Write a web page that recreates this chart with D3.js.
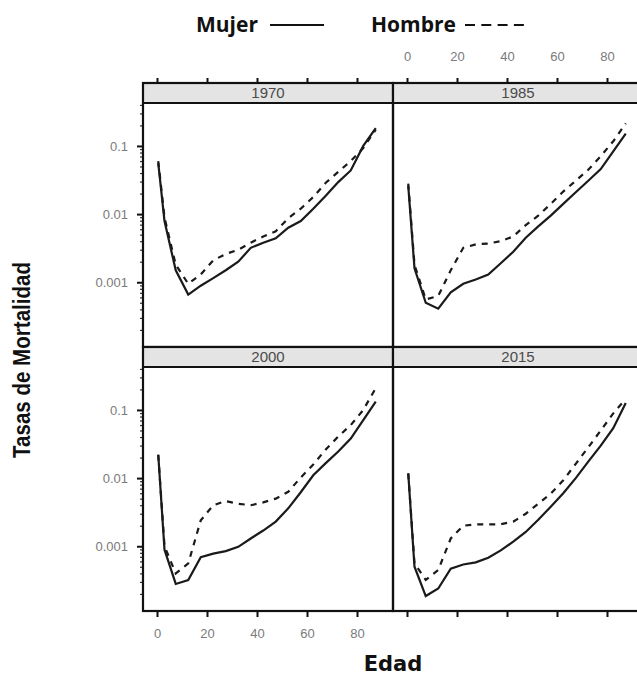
<!DOCTYPE html>
<html>
  <head>
    <title>Tasas de Mortalidad por Edad</title>
    <style>
      body { margin: 0; background: #fff; }
      .tick text { font-family: Arial, "Liberation Sans", sans-serif; font-size: 13px; fill: #7a7a7a; }
    </style>
    <script src="https://cdn.jsdelivr.net/npm/d3@7"></script>
  </head>
  <body>
    <script>
      // edades (punto medio de cada grupo)
      const ages = [0.5, 3, 7.5, 12.5, 17.5, 22.5, 27.5, 32.5, 37.5, 42.5, 47.5, 52.5, 57.5, 62.5, 67.5, 72.5, 77.5, 82.5, 87.5];
      const years = ['1970', '1985', '2000', '2015'];
      const xTicks = [0, 20, 40, 60, 80];
      const yTicks = [0.001, 0.01, 0.1];
      const yTickLabels = ['0.001', '0.01', '0.1'];

      const mujer1970  = [0.056, 0.0079, 0.0015, 0.00066, 0.00089, 0.00115, 0.0015, 0.0020, 0.0032, 0.0038, 0.0044, 0.0063, 0.0079, 0.012, 0.0186, 0.0295, 0.0437, 0.100, 0.182];
      const hombre1970 = [0.060, 0.0089, 0.0018, 0.00095, 0.0013, 0.0021, 0.0026, 0.0030, 0.0038, 0.0047, 0.0056, 0.0087, 0.012, 0.0178, 0.0288, 0.0417, 0.060, 0.093, 0.174];
      const mujer1985  = [0.026, 0.0016, 0.0005, 0.00041, 0.00071, 0.00095, 0.0011, 0.0013, 0.0019, 0.0028, 0.0045, 0.0066, 0.0095, 0.0141, 0.0209, 0.0309, 0.0457, 0.083, 0.151];
      const hombre1985 = [0.028, 0.0018, 0.00056, 0.00063, 0.0015, 0.0032, 0.0036, 0.0037, 0.0040, 0.0047, 0.0069, 0.0095, 0.0141, 0.0214, 0.0309, 0.0447, 0.0708, 0.117, 0.214];
      const mujer2000  = [0.022, 0.00089, 0.00028, 0.00032, 0.00069, 0.00078, 0.00085, 0.00098, 0.0013, 0.0017, 0.0023, 0.0036, 0.0062, 0.011, 0.0166, 0.0245, 0.038, 0.071, 0.132];
      const hombre2000 = [0.022, 0.0010, 0.0004, 0.00056, 0.0024, 0.0040, 0.0046, 0.0042, 0.0040, 0.0044, 0.0050, 0.0063, 0.0102, 0.0158, 0.0263, 0.0407, 0.060, 0.100, 0.209];
      const mujer2015  = [0.0117, 0.0005, 0.000186, 0.00024, 0.00047, 0.00054, 0.00058, 0.00068, 0.00087, 0.00117, 0.00162, 0.00245, 0.0038, 0.006, 0.010, 0.0174, 0.030, 0.054, 0.126];
      const hombre2015 = [0.0117, 0.00056, 0.00032, 0.00045, 0.0013, 0.0020, 0.0021, 0.0021, 0.0021, 0.0023, 0.0030, 0.0042, 0.0059, 0.0093, 0.0162, 0.0282, 0.050, 0.089, 0.145];

      const mujer = [mujer1970, mujer1985, mujer2000, mujer2015];
      const hombre = [hombre1970, hombre1985, hombre2000, hombre2015];

      const width = 637, height = 675;
      const margin = { left: 143, top: 83 };
      const panelW = 250, panelH = 244, stripH = 20;

      const svg = d3.select('body').append('svg')
        .attr('width', width)
        .attr('height', height);

      const x = d3.scaleLinear().domain([-5.6, 94.4]).range([0, panelW]);
      const y = d3.scaleLog().domain([Math.pow(10, -3.95), Math.pow(10, -0.37)]).range([panelH, 0]);

      // minor log ticks
      const minor = [];
      [0.0001, 0.001, 0.01, 0.1].forEach(b => {
        for (let k = 2; k <= 9; k++) {
          const v = b * k;
          if (v >= y.domain()[0] && v <= y.domain()[1]) minor.push(v);
        }
      });

      const line = d3.line()
        .x((d, i) => x(ages[i]))
        .y(d => y(d));

      years.forEach((yr, p) => {
        const col = p % 2, row = Math.floor(p / 2);
        const gx = margin.left + col * panelW;
        const gy = margin.top + row * (panelH + stripH);
        const g = svg.append('g').attr('transform', `translate(${gx},${gy})`);

        // strip
        g.append('rect')
          .attr('width', panelW).attr('height', stripH)
          .attr('fill', '#e4e4e4');
        g.append('text')
          .attr('x', panelW / 2).attr('y', stripH / 2 + 5)
          .attr('text-anchor', 'middle')
          .style('font', '15px Arial, "Liberation Sans", sans-serif')
          .attr('fill', '#4a4a4a')
          .text(yr);

        const plot = g.append('g').attr('transform', `translate(0,${stripH})`);

        plot.append('path')
          .datum(hombre[p])
          .attr('d', line)
          .attr('fill', 'none')
          .attr('stroke', '#1a1a1a')
          .attr('stroke-width', 2.2)
          .attr('stroke-dasharray', '6,6');

        plot.append('path')
          .datum(mujer[p])
          .attr('d', line)
          .attr('fill', 'none')
          .attr('stroke', '#1a1a1a')
          .attr('stroke-width', 2.2);

        // frame lines
        g.append('rect')
          .attr('width', panelW).attr('height', panelH + stripH)
          .attr('fill', 'none').attr('stroke', '#111').attr('stroke-width', 2.2);
        g.append('line')
          .attr('x1', 0).attr('x2', panelW)
          .attr('y1', stripH).attr('y2', stripH)
          .attr('stroke', '#111').attr('stroke-width', 2.2);

        // top axis (row 0)
        if (row === 0) {
          const ax = g.append('g')
            .call(d3.axisTop(x).tickValues(xTicks).tickSize(5).tickPadding(17)
              .tickFormat(col === 1 ? d3.format('d') : ''));
          ax.select('.domain').remove();
          ax.selectAll('line').attr('stroke', '#111').attr('stroke-width', 2);
        }
        // bottom axis (row 1)
        if (row === 1) {
          const ax = plot.append('g')
            .attr('transform', `translate(0,${panelH})`)
            .call(d3.axisBottom(x).tickValues(xTicks).tickSize(6).tickPadding(12)
              .tickFormat(col === 0 ? d3.format('d') : ''));
          ax.select('.domain').remove();
          ax.selectAll('line').attr('stroke', '#111').attr('stroke-width', 2);
        }
        // left axis (col 0)
        if (col === 0) {
          const ay = plot.append('g')
            .call(d3.axisLeft(y).tickValues(yTicks).tickSize(6).tickPadding(9)
              .tickFormat((d, i) => yTickLabels[i]));
          ay.select('.domain').remove();
          ay.selectAll('line').attr('stroke', '#111').attr('stroke-width', 2);
          const am = plot.append('g')
            .call(d3.axisLeft(y).tickValues(minor).tickSize(3).tickFormat(''));
          am.select('.domain').remove();
          am.selectAll('line').attr('stroke', '#333').attr('stroke-width', 1.2);
        }
      });

      // legend
      const leg = svg.append('g').style('font', 'bold 21px "Open Sans", sans-serif').attr('fill', '#111');
      leg.append('text').attr('x', 196).attr('y', 32).text('Mujer');
      leg.append('line').attr('x1', 270).attr('x2', 324).attr('y1', 25).attr('y2', 25)
        .attr('stroke', '#111').attr('stroke-width', 2);
      leg.append('text').attr('x', 371).attr('y', 32).text('Hombre');
      leg.append('line').attr('x1', 465).attr('x2', 524).attr('y1', 25).attr('y2', 25)
        .attr('stroke', '#111').attr('stroke-width', 2).attr('stroke-dasharray', '10,6.3');

      // axis titles
      svg.append('text')
        .attr('x', margin.left + panelW).attr('y', 671)
        .attr('text-anchor', 'middle')
        .style('font', 'bold 21px "DejaVu Sans", Verdana, sans-serif')
        .attr('fill', '#111')
        .text('Edad');

      svg.append('text')
        .attr('transform', 'translate(30,360) rotate(-90)')
        .attr('text-anchor', 'middle')
        .attr('textLength', 196)
        .attr('lengthAdjust', 'spacingAndGlyphs')
        .style('font', 'bold 24px "Liberation Sans", Arial, sans-serif')
        .attr('fill', '#111')
        .text('Tasas de Mortalidad');
    </script>
  </body>
</html>
